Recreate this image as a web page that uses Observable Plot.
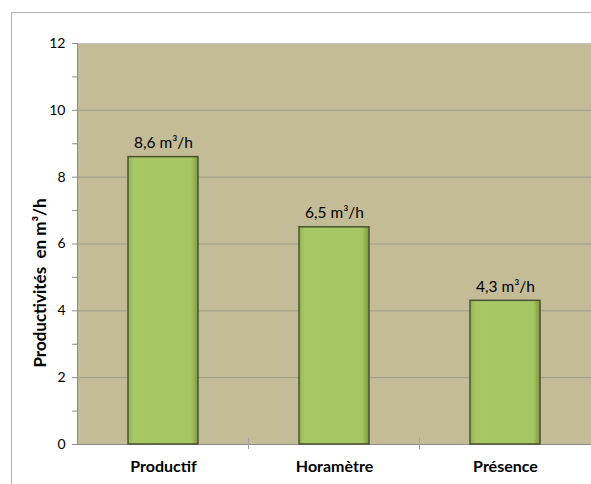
<!DOCTYPE html>
<html>
<head>
<meta charset="utf-8">
<script src="https://cdn.jsdelivr.net/npm/d3@7"></script>
<script src="https://cdn.jsdelivr.net/npm/@observablehq/plot@0.6"></script>
<style>
  html, body { margin: 0; padding: 0; background: #fff; }
  #wrap { position: relative; width: 591px; height: 484px; }
  #border { position: absolute; left: 11px; top: 12px; right: 0; bottom: 0; border-left: 1px solid #b4b4b4; border-top: 1px solid #b4b4b4; }
  #chart { position: absolute; left: 0; top: 0; }
</style>
</head>
<body>
<div id="wrap"><div id="border"></div><div id="chart"></div></div>
<script>
const categories = ["Productif", "Horamètre", "Présence"];
const values = [8.6, 6.5, 4.3];
const valueLabels = ["8,6 m³/h", "6,5 m³/h", "4,3 m³/h"];
const majorTicks = [0, 2, 4, 6, 8, 10, 12];
const minorTicks = [1, 3, 5, 7, 9, 11];
const yLabel = "Productivités\u00a0\u00a0en m³/h";

const data = categories.map((c, i) => ({cat: c, v: values[i], label: valueLabels[i]}));

const font = "Lato, 'Open Sans', sans-serif";

const defs = () => {
  const ns = "http://www.w3.org/2000/svg";
  const d = document.createElementNS(ns, "defs");
  d.innerHTML = `
    <linearGradient id="barGrad" x1="0" x2="1" y1="0" y2="0">
      <stop offset="0" stop-color="#93b452"/>
      <stop offset="0.08" stop-color="#a8c866"/>
      <stop offset="0.9" stop-color="#a6c664"/>
      <stop offset="1" stop-color="#7d9a3c"/>
    </linearGradient>`;
  return d;
};

// category boundary ticks on the x axis
const boundaryTicks = (index, scales, values, dims) => {
  const ns = "http://www.w3.org/2000/svg";
  const g = document.createElementNS(ns, "g");
  const x = scales.x;
  const bw = typeof x.bandwidth === "function" ? x.bandwidth() : x.bandwidth;
  const step = x(categories[1]) - x(categories[0]);
  const gap = (step - bw) / 2;
  const y0 = scales.y(0);
  for (let i = 1; i < categories.length; i++) {
    const bx = x(categories[i]) - gap;
    const l = document.createElementNS(ns, "line");
    l.setAttribute("x1", bx); l.setAttribute("x2", bx);
    l.setAttribute("y1", y0 - 6); l.setAttribute("y2", y0 + 5);
    l.setAttribute("stroke", "#a0a0a0");
    g.appendChild(l);
  }
  return g;
};

const chart = Plot.plot({
  width: 591,
  height: 484,
  marginLeft: 77,
  marginRight: 0,
  marginTop: 43,
  marginBottom: 40,
  style: {fontFamily: font, fontSize: "12px", color: "#000", background: "transparent"},
  x: {domain: categories, paddingInner: 0.59, paddingOuter: 0.295, label: null},
  y: {domain: [0, 12], label: null},
  marks: [
    defs,
    Plot.frame({fill: "#c4bc96", stroke: null}),
    Plot.ruleY([12], {stroke: "#c8c8c8"}),
    Plot.gridY([2, 4, 6, 8, 10], {stroke: "#9e9a8a", strokeOpacity: 1}),
    Plot.ruleY([0], {stroke: "#8c8c8c"}),
    Plot.frame({anchor: "left", stroke: "#8c8c8c"}),
    Plot.axisY(majorTicks, {ticks: majorTicks, tickSize: 5, tickPadding: 7, stroke: "#8c8c8c", fontSize: 14, label: null}),
    Plot.axisY(minorTicks, {ticks: minorTicks, tickSize: 5, tickFormat: () => "", stroke: "#8c8c8c", label: null}),
    Plot.axisX({tickSize: 0, tickPadding: 16, fontWeight: "bold", fontSize: 16, label: null}),
    Plot.text([yLabel], {frameAnchor: "left", textAnchor: "middle", dx: -37, dy: 39, rotate: -90, fontWeight: "bold", fontSize: 17, text: d => d}),
    Plot.barY(data, {x: "cat", y: "v", fill: "url(#barGrad)", stroke: "#4a5236", strokeWidth: 1.5}),
    Plot.text(data, {x: "cat", y: "v", text: "label", dy: -14, fontSize: 15.5}),
    boundaryTicks
  ]
});

document.getElementById("chart").appendChild(chart);
</script>
</body>
</html>
